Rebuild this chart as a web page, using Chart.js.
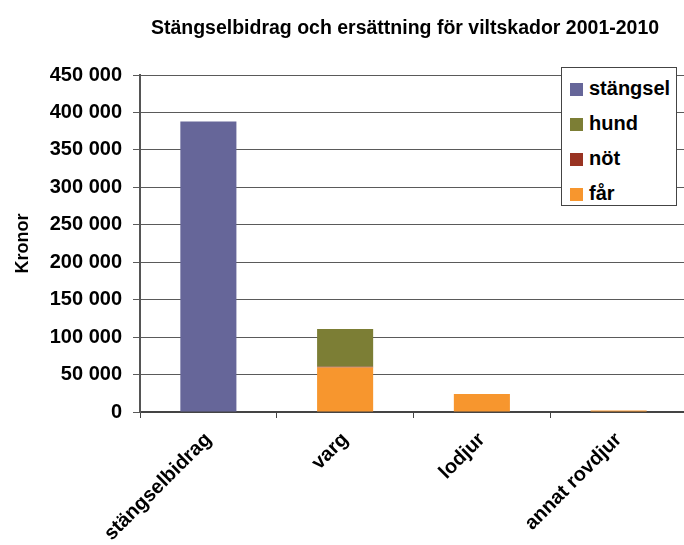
<!DOCTYPE html>
<html lang="sv">
<head>
    <meta charset="UTF-8">
    <title>Stängselbidrag och ersättning</title>
    <script src="https://cdn.jsdelivr.net/npm/chart.js@4"></script>
    <style>
        html, body { margin: 0; padding: 0; overflow: hidden; background: #fff; }
        body { width: 684px; height: 545px; position: relative; font-family: "Liberation Sans", Arial, sans-serif; }
        #wrap { position: absolute; left: 0; top: 0; width: 690px; height: 545px; }
        #title { position: absolute; left: 405px; top: 15px; transform: translateX(-50%); white-space: nowrap;
                 font-weight: bold; font-size: 19.5px; line-height: 24px; color: #000; }
        #legend { position: absolute; left: 561px; top: 67px; width: 114px; height: 137px;
                  border: 1px solid #444; background: #fff; }
        .item { position: absolute; left: 8px; height: 24px; line-height: 24px; font-weight: bold; font-size: 20px; color: #000; }
        .item span { display: inline-block; width: 13px; height: 13px; margin-right: 6px; vertical-align: -1px; }
    </style>
</head>
<body>
    <div id="wrap"><canvas id="chart" width="690" height="545"></canvas></div>
    <div id="title">Stängselbidrag och ersättning för viltskador 2001-2010</div>
    <div id="legend"></div>

    <script>
        // categories (x axis)
        const categories = ["stängselbidrag", "varg", "lodjur", "annat rovdjur"];

        // series values in kronor (stacked bottom to top)
        const farValues = [0, 59300, 24100, 2000];
        const notValues = [0, 1000, 0, 0];
        const hundValues = [0, 50400, 0, 0];
        const stangselValues = [388000, 0, 0, 0];

        // y axis
        const yMax = 450000;
        const yStep = 50000;

        function kronor(v) {
            return String(v).replace(/\B(?=(\d{3})+(?!\d))/g, " ");
        }

        const font = "'Liberation Sans', Arial, sans-serif";

        const chart = new Chart(document.getElementById("chart"), {
            type: "bar",
            data: {
                labels: categories,
                datasets: [
                    { label: "får", data: farValues, backgroundColor: "#f7962e" },
                    { label: "nöt", data: notValues, backgroundColor: "#993322" },
                    { label: "hund", data: hundValues, backgroundColor: "#7c7e35" },
                    { label: "stängsel", data: stangselValues, backgroundColor: "#666699" }
                ]
            },
            options: {
                responsive: false,
                animation: false,
                layout: { padding: { top: 75, right: 3, left: 0, bottom: 0 } },
                datasets: { bar: { categoryPercentage: 1, barPercentage: 0.41 } },
                plugins: {
                    legend: { display: false },
                    title: { display: false },
                    tooltip: { enabled: false }
                },
                scales: {
                    x: {
                        stacked: true,
                        afterFit: (s) => { s.height = 133; },
                        border: { color: "#444", width: 2 },
                        grid: { drawOnChartArea: false, offset: true, tickLength: 6, color: "#444" },
                        ticks: {
                            color: "#000",
                            maxRotation: 45, minRotation: 45,
                            padding: 10,
                            font: { family: font, size: 20, weight: "bold" }
                        }
                    },
                    y: {
                        stacked: true,
                        min: 0, max: yMax,
                        afterFit: (s) => { s.width = 140; },
                        border: { color: "#555", width: 2 },
                        grid: { color: "#5a5a5a", tickLength: 7 },
                        title: {
                            display: true, text: "Kronor", color: "#000",
                            padding: { top: 12, bottom: 0 },
                            font: { family: font, size: 18, weight: "bold" }
                        },
                        ticks: {
                            stepSize: yStep, color: "#000", padding: 11,
                            font: { family: font, size: 20, weight: "bold" },
                            callback: (v) => kronor(v)
                        }
                    }
                }
            }
        });

        // legend box, same order as the original (top of stack first)
        const legend = document.getElementById("legend");
        chart.data.datasets.slice().reverse().forEach((ds, i) => {
            const row = document.createElement("div");
            row.className = "item";
            row.style.top = (8 + i * 35) + "px";
            row.innerHTML = `<span style="background:${ds.backgroundColor}"></span>${ds.label}`;
            legend.appendChild(row);
        });
    </script>
</body>
</html>
